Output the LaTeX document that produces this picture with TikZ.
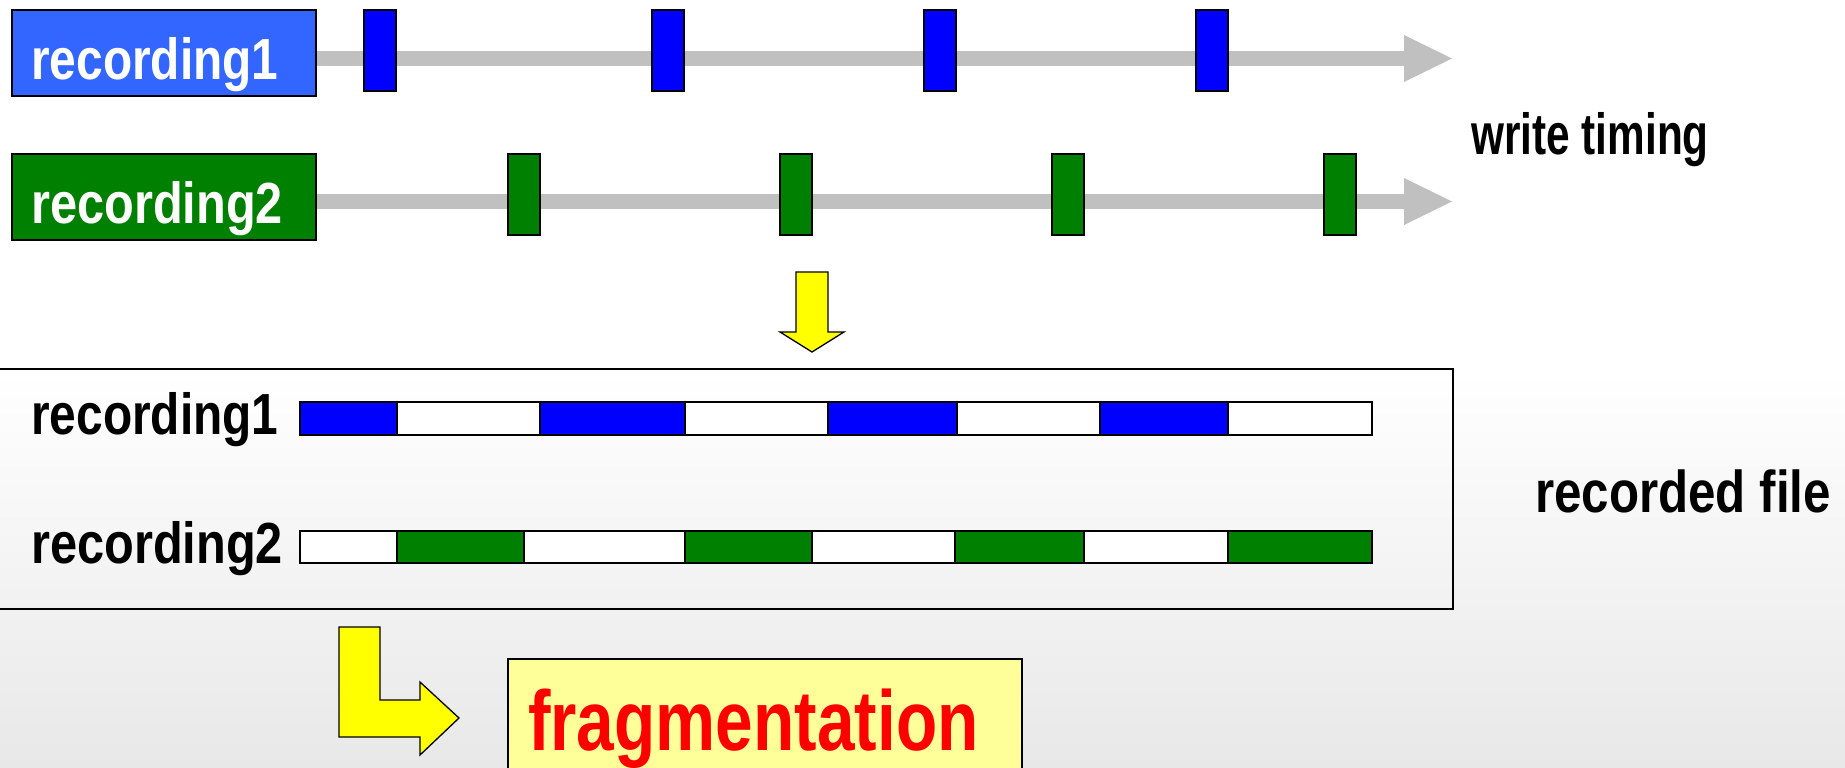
\documentclass[tikz,border=0pt]{standalone}
\usepackage{fontspec}
\setmainfont{Liberation Sans}

\definecolor{recblue}{HTML}{3366FF}
\definecolor{markblue}{HTML}{0000FF}
\definecolor{recgreen}{HTML}{008000}
\definecolor{trackgray}{HTML}{C0C0C0}
\definecolor{notepale}{HTML}{FFFF99}
\definecolor{blockyellow}{HTML}{FFFF00}
\definecolor{slidegray}{HTML}{E8E8E8}

\tikzset{
  lbl/.style={font=\bfseries\fontsize{58}{60}\selectfont, inner sep=0pt, anchor=base west},
  recbox/.style={draw=black, line width=1.5pt, minimum width=304pt, minimum height=86pt, inner sep=0pt},
  writemark/.style={draw=black, line width=1.5pt, minimum width=32pt, minimum height=81pt, inner sep=0pt},
  track/.style={draw=trackgray, line width=15pt},
  trackhead/.style={fill=trackgray},
  fileseg/.style={draw=black, line width=1.5pt},
  blockarrow/.style={fill=blockyellow, draw=black, line width=1.3pt, line join=miter},
}

\begin{document}
\begin{tikzpicture}[x=1pt,y=-1pt]
\useasboundingbox (0,0) rectangle (1845,768);

% slide background: white, fading to light grey towards the bottom
\fill[white] (0,0) rectangle (1845,768);
\shade[top color=white, bottom color=slidegray] (0,370) rectangle (1845,768);

% ---- write timing of the two recordings ----
\node[recbox, fill=recblue] (rec1) at (164,53) {};
\node[recbox, fill=recgreen] (rec2) at (164,197) {};
\node[lbl, white] (rec1text) at (31,79) {\scalebox{0.825}[1]{recording1}};
\node[lbl, white] (rec2text) at (31,223) {\scalebox{0.84}[1]{recording2}};

\coordinate (trackend1) at (1405,58.5);
\coordinate (trackend2) at (1405,201.5);
\draw[track] (rec1.east |- trackend1) -- (trackend1);
\draw[track] (rec2.east |- trackend2) -- (trackend2);
\fill[trackhead] (1404,35) -- (1452,58.5) -- (1404,82) -- cycle;
\fill[trackhead] (1404,178) -- (1452,201.5) -- (1404,225) -- cycle;

\foreach \x [count=\i] in {364,652,924,1196}
  \node[writemark, fill=markblue] (wa\i) at (\x+16,50.5) {};
\foreach \x [count=\i] in {508,780,1052,1324}
  \node[writemark, fill=recgreen] (wb\i) at (\x+16,194.5) {};

\node[lbl, black] (timinglbl) at (1471,154) {\scalebox{0.73}[1]{write timing}};

% ---- down arrow ----
\draw[blockarrow] (796,272) -- (828,272) -- (828,332) -- (844,332) -- (812,352)
  -- (780,332) -- (796,332) -- cycle;

% ---- layout of the recorded file ----
\node[draw=black, line width=2pt, anchor=north west, minimum width=1457pt,
      minimum height=240pt, inner sep=0pt] (filebox) at (-5,368) {};

\node[lbl, black] (file1text) at (31,434) {\scalebox{0.825}[1]{recording1}};
\node[lbl, black] (file2text) at (31,563) {\scalebox{0.84}[1]{recording2}};

% recording1 blocks
\foreach \a/\b/\c in {300/397/markblue, 397/540/white, 540/685/markblue, 685/828/white,
                      828/957/markblue, 957/1100/white, 1100/1228/markblue, 1228/1372/white}
  \draw[fileseg, fill=\c] (\a,402) rectangle (\b,435);
% recording2 blocks
\foreach \a/\b/\c in {300/397/white, 397/524/recgreen, 524/685/white, 685/812/recgreen,
                      812/955/white, 955/1084/recgreen, 1084/1228/white, 1228/1372/recgreen}
  \draw[fileseg, fill=\c] (\a,531) rectangle (\b,563);

\node[lbl, black, font=\bfseries\fontsize{59}{61}\selectfont] (filelbl) at (1535,512)
  {\scalebox{0.835}[1]{recorded file}};

% ---- result ----
\draw[blockarrow] (339,627) -- (380,627) -- (380,700) -- (420,700) -- (420,682)
  -- (459,718) -- (420,755) -- (420,737) -- (339,737) -- cycle;

\node[draw=black, line width=1.5pt, fill=notepale, anchor=north west, minimum width=514pt,
      minimum height=140pt, inner sep=0pt] (fragbox) at (507,658) {};
\node[lbl, red, font=\bfseries\fontsize{85}{88}\selectfont] (fragtext) at (528,750)
  {\scalebox{0.795}[1]{fragmentation}};
\end{tikzpicture}
\end{document}
